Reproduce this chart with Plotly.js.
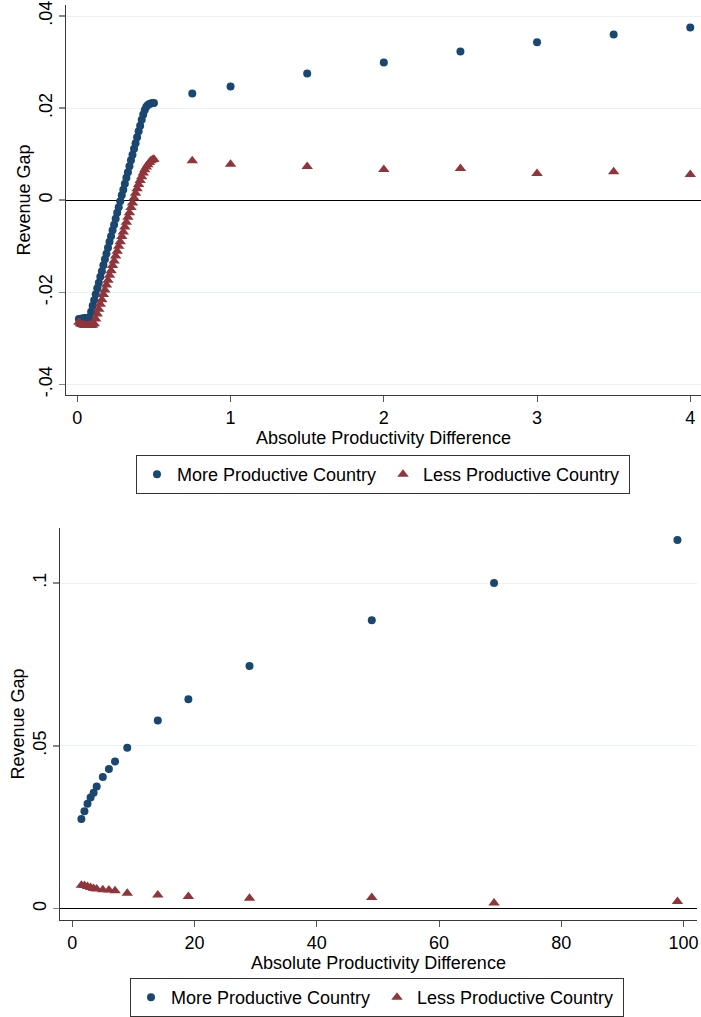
<!DOCTYPE html>
<html>
<head>
<meta charset="utf-8">
<script src="https://cdn.plot.ly/plotly-3.0.1.min.js"></script>
<style>
  html, body { margin: 0; padding: 0; background: #ffffff; }
  #chart { width: 701px; height: 1017px; }
</style>
</head>
<body>
<div id="chart"></div>
<script>
// Panel A: small productivity differences (0 to 4)
const diffSmall = [
  0.01, 0.02, 0.03, 0.04, 0.05, 0.06, 0.07, 0.08, 0.09, 0.10,
  0.11, 0.12, 0.13, 0.14, 0.15, 0.16, 0.17, 0.18, 0.19, 0.20,
  0.21, 0.22, 0.23, 0.24, 0.25, 0.26, 0.27, 0.28, 0.29, 0.30,
  0.31, 0.32, 0.33, 0.34, 0.35, 0.36, 0.37, 0.38, 0.39, 0.40,
  0.41, 0.42, 0.43, 0.44, 0.45, 0.46, 0.47, 0.48, 0.49, 0.50,
  0.75, 1.0, 1.5, 2.0, 2.5, 3.0, 3.5, 4.0
];
const moreSmall = [
  -0.0258, -0.0258, -0.0257, -0.0257, -0.0256, -0.0256, -0.0255, -0.0254, -0.0242, -0.0229,
  -0.0217, -0.0204, -0.0191, -0.0179, -0.0166, -0.0154, -0.0141, -0.0128, -0.0116, -0.0103,
  -0.0090, -0.0078, -0.0065, -0.0053, -0.0040, -0.0027, -0.0015, -0.0002, 0.0011, 0.0023,
  0.0036, 0.0049, 0.0061, 0.0074, 0.0087, 0.0099, 0.0112, 0.0124, 0.0137, 0.0150,
  0.0162, 0.0175, 0.0186, 0.0196, 0.0203, 0.0207, 0.0209, 0.0210, 0.0211, 0.0211,
  0.0232, 0.0247, 0.0275, 0.0299, 0.0323, 0.0343, 0.0360, 0.0375
];
const lessSmall = [
  -0.0265, -0.0268, -0.0270, -0.0271, -0.0272, -0.0272, -0.0272, -0.0272, -0.0272, -0.0271,
  -0.0268, -0.0258, -0.0247, -0.0237, -0.0226, -0.0216, -0.0205, -0.0195, -0.0184, -0.0174,
  -0.0163, -0.0153, -0.0142, -0.0132, -0.0121, -0.0111, -0.0100, -0.0090, -0.0079, -0.0069,
  -0.0058, -0.0048, -0.0037, -0.0027, -0.0016, -0.0006, 0.0005, 0.0015, 0.0025, 0.0034,
  0.0043, 0.0051, 0.0059, 0.0066, 0.0072, 0.0077, 0.0082, 0.0086, 0.0088, 0.0089,
  0.0086, 0.0078, 0.0073, 0.0067, 0.0069, 0.0058, 0.0062, 0.0056
];

// Panel B: large productivity differences (up to 100)
const diffLarge = [1.5, 2, 2.5, 3, 3.5, 4, 5, 6, 7, 9, 14, 19, 29, 49, 69, 99];
const moreLarge = [
  0.0275, 0.0299, 0.0322, 0.0341, 0.0356, 0.0375, 0.0404, 0.0429, 0.0452, 0.0494,
  0.0578, 0.0643, 0.0745, 0.0886, 0.1000, 0.1132
];
const lessLarge = [
  0.0072, 0.0071, 0.0068, 0.0065, 0.0062, 0.0060, 0.0058, 0.0057, 0.0055, 0.0047,
  0.0042, 0.0037, 0.0032, 0.0034, 0.0017, 0.0022
];

// Axis ticks
const xTicksA = [0, 1, 2, 3, 4];
const yTicksA = [-0.04, -0.02, 0, 0.02, 0.04];
const yTickTextA = ['-.04', '-.02', '0', '.02', '.04'];
const xTicksB = [0, 20, 40, 60, 80, 100];
const yTicksB = [0, 0.05, 0.1];
const yTickTextB = ['0', '.05', '.1'];

const seriesNames = ['More Productive Country', 'Less Productive Country'];

const NAVY = '#1a476f';
const MAROON = '#90353b';
const FONT = 'Liberation Sans, Arial, Helvetica, sans-serif';
const W = 701, H = 1017;

function markerFor(i) {
  return i === 0
    ? { symbol: 'circle', size: 8, color: NAVY, line: { width: 0 } }
    : { symbol: 'triangle-up', size: 10, color: MAROON, line: { width: 0 } };
}

const traces = [
  { x: diffSmall, y: moreSmall, name: seriesNames[0], type: 'scatter', mode: 'markers',
    marker: markerFor(0), xaxis: 'x', yaxis: 'y', legend: 'legend' },
  { x: diffSmall, y: lessSmall, name: seriesNames[1], type: 'scatter', mode: 'markers',
    marker: markerFor(1), xaxis: 'x', yaxis: 'y', legend: 'legend' },
  { x: diffLarge, y: moreLarge, name: seriesNames[0], type: 'scatter', mode: 'markers',
    marker: markerFor(0), xaxis: 'x2', yaxis: 'y2', legend: 'legend2' },
  { x: diffLarge, y: lessLarge, name: seriesNames[1], type: 'scatter', mode: 'markers',
    marker: markerFor(1), xaxis: 'x2', yaxis: 'y2', legend: 'legend2' }
];

const baseFont = { family: FONT, size: 18, color: '#000000' };

function xAxis(domain, range, ticks, anchor) {
  return {
    domain: domain, range: range, anchor: anchor,
    tickmode: 'array', tickvals: ticks,
    showgrid: false, zeroline: false,
    showline: true, linecolor: '#3a3a3a', linewidth: 1,
    ticks: 'outside', ticklen: 6, tickcolor: '#555555', tickwidth: 1,
    tickfont: baseFont,
    title: { text: 'Absolute Productivity Difference', font: baseFont, standoff: 0 }
  };
}

function yAxis(domain, range, ticks, labels, anchor) {
  return {
    domain: domain, range: range, anchor: anchor,
    tickmode: 'array', tickvals: ticks, ticktext: labels, tickangle: -90,
    showgrid: true, gridcolor: '#eaf2f3', gridwidth: 1,
    zeroline: true, zerolinecolor: '#000000', zerolinewidth: 1.4,
    showline: true, linecolor: '#3a3a3a', linewidth: 1,
    ticks: 'outside', ticklen: 6, tickcolor: '#888888', tickwidth: 1.5,
    tickfont: baseFont,
    title: { text: 'Revenue Gap', font: baseFont, standoff: 0 }
  };
}

function legendBox(x, yTop) {
  return {
    orientation: 'h', x: x, xanchor: 'left', y: yTop, yanchor: 'top',
    bordercolor: '#333333', borderwidth: 1, bgcolor: '#ffffff',
    font: baseFont, entrywidth: 201, entrywidthmode: 'pixels',
    itemsizing: 'trace', tracegroupgap: 0
  };
}

const layout = {
  width: W, height: H,
  margin: { l: 0, r: 0, t: 0, b: 0 },
  paper_bgcolor: '#ffffff', plot_bgcolor: '#ffffff',
  font: baseFont,
  showlegend: true,
  xaxis: xAxis([66 / W, 1], [-0.074, 4.07], xTicksA, 'y'),
  yaxis: yAxis([1 - 395 / H, 1 - 5 / H], [-0.0423, 0.0424], yTicksA, yTickTextA, 'x'),
  xaxis2: xAxis([60 / W, 697 / W], [-2.0, 102.2], xTicksB, 'y2'),
  yaxis2: yAxis([1 - 920 / H, 1 - 528 / H], [-0.0035, 0.1169], yTicksB, yTickTextB, 'x2'),
  legend: legendBox(136 / W, 1 - 455 / H),
  legend2: legendBox(130 / W, 1 - 978 / H)
};

Plotly.newPlot('chart', traces, layout, { displayModeBar: false, staticPlot: true });
</script>
</body>
</html>
